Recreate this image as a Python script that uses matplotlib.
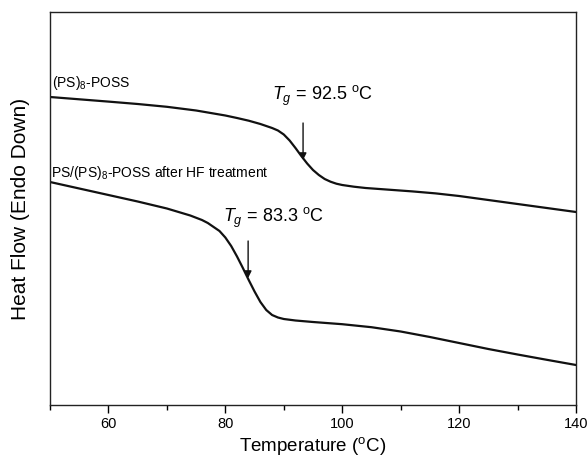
import matplotlib
matplotlib.use("Agg")
import matplotlib.pyplot as plt
from matplotlib.ticker import MultipleLocator

plt.rcParams['font.family'] = ['Liberation Sans', 'DejaVu Sans']
plt.rcParams['mathtext.fontset'] = 'custom'
plt.rcParams['mathtext.rm'] = 'Liberation Sans'
plt.rcParams['mathtext.it'] = 'Liberation Sans:italic'

# (PS)8-POSS curve (arbitrary heat-flow units)
t1 = [50, 55, 60, 65, 70, 75, 80, 82, 84, 86, 88, 89, 90, 91, 92, 93, 94, 95,
      96, 97, 98, 99, 100, 102, 104, 108, 112, 116, 120, 125, 130, 135, 140]
h1 = [308, 305.7, 303.4, 301, 298.2, 294.5, 289.5, 287, 284.3, 281, 277, 274.5, 270.5, 264.5, 257, 249, 241.5, 235,
      230, 226, 223.3, 221.3, 220, 218.3, 217, 215.3, 213.6, 211.6, 209, 205, 201, 197, 193]

# PS/(PS)8-POSS after HF treatment curve
t2 = [50, 55, 60, 65, 70, 72, 74, 76, 77, 78, 79, 80, 81, 82, 83, 84, 85, 86, 87,
      88, 89, 90, 92, 95, 100, 105, 110, 115, 120, 125, 130, 135, 140]
h2 = [223, 216.5, 210, 203.5, 196.5, 193, 189.5, 185, 182, 178, 174, 167.5, 159, 148.5, 137, 125, 113.5, 103, 95,
      90, 87.5, 86, 84.5, 83, 80.8, 77.8, 73.5, 68, 62, 56, 50.5, 45.2, 40]

label1 = "(PS)$_8$-POSS"
label2 = "PS/(PS)$_8$-POSS after HF treatment"
tg1_text = "$T_g$ = 92.5 $^{\\rm o}$C"
tg2_text = "$T_g$ = 83.3 $^{\\rm o}$C"
tg1_arrow_x, tg1_arrow_y = 93.3, (282, 245)
tg2_arrow_x, tg2_arrow_y = 83.9, (164, 127)

fig = plt.figure(figsize=(5.88, 4.58), dpi=100)
ax = fig.add_axes([50/588, 1-405/458, 526/588, 393/458])

ax.plot(t1, h1, color='#111111', lw=1.6, solid_joinstyle='round')
ax.plot(t2, h2, color='#111111', lw=1.6, solid_joinstyle='round')

ax.set_xlim(50, 140)
ax.set_ylim(0, 393)

ax.xaxis.set_major_locator(MultipleLocator(20))
ax.xaxis.set_minor_locator(MultipleLocator(10))
ax.tick_params(axis='x', which='major', direction='out', length=6, width=1, labelsize=10.5, pad=3)
ax.tick_params(axis='x', which='minor', direction='out', length=3.5, width=1)
ax.set_yticks([])
for s in ax.spines.values():
    s.set_linewidth(1.0)
    s.set_color('#222222')

ax.set_xlabel("Temperature ($^{\\rm o}$C)", fontsize=13.5, labelpad=2.5)
ax.set_ylabel("Heat Flow (Endo Down)", fontsize=15)
ax.yaxis.set_label_coords(-20/526, 0.5)

ax.text(50.3, 322, label1, fontsize=10, va='center', ha='left')
ax.text(50.2, 232, label2, fontsize=10, va='center', ha='left')

ax.text(88.0, 305, tg1_text, fontsize=13, va='baseline', ha='left')
ax.text(79.6, 183, tg2_text, fontsize=13, va='baseline', ha='left')

for x, (y0, y1) in [(tg1_arrow_x, tg1_arrow_y), (tg2_arrow_x, tg2_arrow_y)]:
    ax.annotate('', xy=(x, y1), xytext=(x, y0),
                arrowprops=dict(arrowstyle='-|>', color='#111111', lw=1.0,
                                mutation_scale=10, shrinkA=0, shrinkB=0))

fig.savefig("out.png", dpi=100)
